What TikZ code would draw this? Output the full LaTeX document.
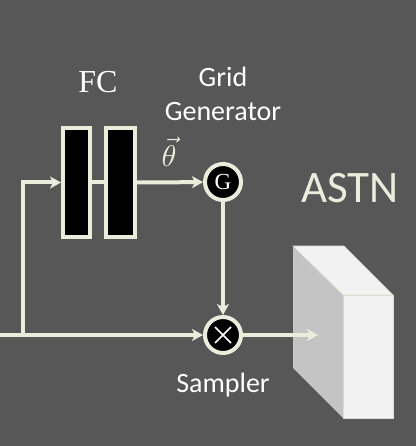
\documentclass[tikz,border=0pt]{standalone}
\usepackage{graphicx}
\usepackage{fontspec}
\newfontfamily\calib{Carlito}
\newfontfamily\serifb{Liberation Serif}
\usetikzlibrary{arrows.meta}
\definecolor{bg}{HTML}{575757}
\definecolor{cream}{HTML}{EBEDDC}
\definecolor{topc}{HTML}{F2F2F2}
\definecolor{sidec}{HTML}{C4C4C4}
\definecolor{edgec}{HTML}{DCDCD0}
\tikzset{
  line/.style={draw=cream, line width=4pt},
  arr/.style={line, -{Stealth[length=11pt,width=12pt,inset=3pt]}},
  fcbox/.style={draw=cream, line width=4pt, fill=black, minimum height=109pt, inner sep=0pt},
  op/.style={circle, draw=cream, line width=4pt, fill=black, minimum size=36pt, inner sep=0pt, text=white},
  sanslab/.style={text=white, inner sep=1pt, font=\calib\fontsize{28}{32}\selectfont},
}
\begin{document}
\begin{tikzpicture}[x=1pt,y=-1pt]
\fill[bg] (0,0) rectangle (416,446);
\useasboundingbox (0,0) rectangle (416,446);
% 3D block
\fill[sidec] (293,246) -- (343,295) -- (343,418) -- (293,368) -- cycle;
\filldraw[fill=topc, draw=edgec, line width=0.6pt] (293,246) -- (344,246) -- (393,295) -- (343,295) -- cycle;
\filldraw[fill=topc, draw=edgec, line width=0.6pt] (343,295) rectangle (393,418);
% nodes
\node[fcbox, minimum width=27pt] (fc1) at (76.5,182.5) {};
\node[fcbox, minimum width=29pt] (fc2) at (120.5,182.5) {};
\node[op, font=\serifb\fontsize{23}{25}\selectfont] (G) at (223,182) {G};
\node[op] (S) at (223,335) {};
\draw[white, line width=1.6pt] ([shift={(-8,-8)}]S.center) -- ([shift={(8,8)}]S.center)
  ([shift={(-8,8)}]S.center) -- ([shift={(8,-8)}]S.center);
\coordinate (in) at (0,335);
\coordinate (j) at (23,335);
\coordinate (out) at (318,335);
% labels
\node[text=white, inner sep=1pt, font=\serifb\fontsize{32}{34}\selectfont] (fclab) at (98,82) {FC};
\node[sanslab] (grid) at (223,77) {Grid};
\node[sanslab] (gen) at (223,112) {Generator};
\node[text=cream, inner sep=0pt] (theta) at (169,152) {\scalebox{3}{$\vec{\theta}$}};
\node[sanslab] (samp) at (223,385) {Sampler};
\node[text=cream, inner sep=1pt, font=\calib\fontsize{45}{50}\selectfont] (astn) at (350,188) {ASTN};
% connectors
\draw[arr] (in) -- (S);
\draw[arr] (j) |- (fc1.west);
\draw[line] (fc1.east) -- (fc2.west);
\draw[arr] (fc2.east) -- (G);
\draw[arr] (G) -- (S);
\draw[arr] (S) -- (out);
\end{tikzpicture}
\end{document}
